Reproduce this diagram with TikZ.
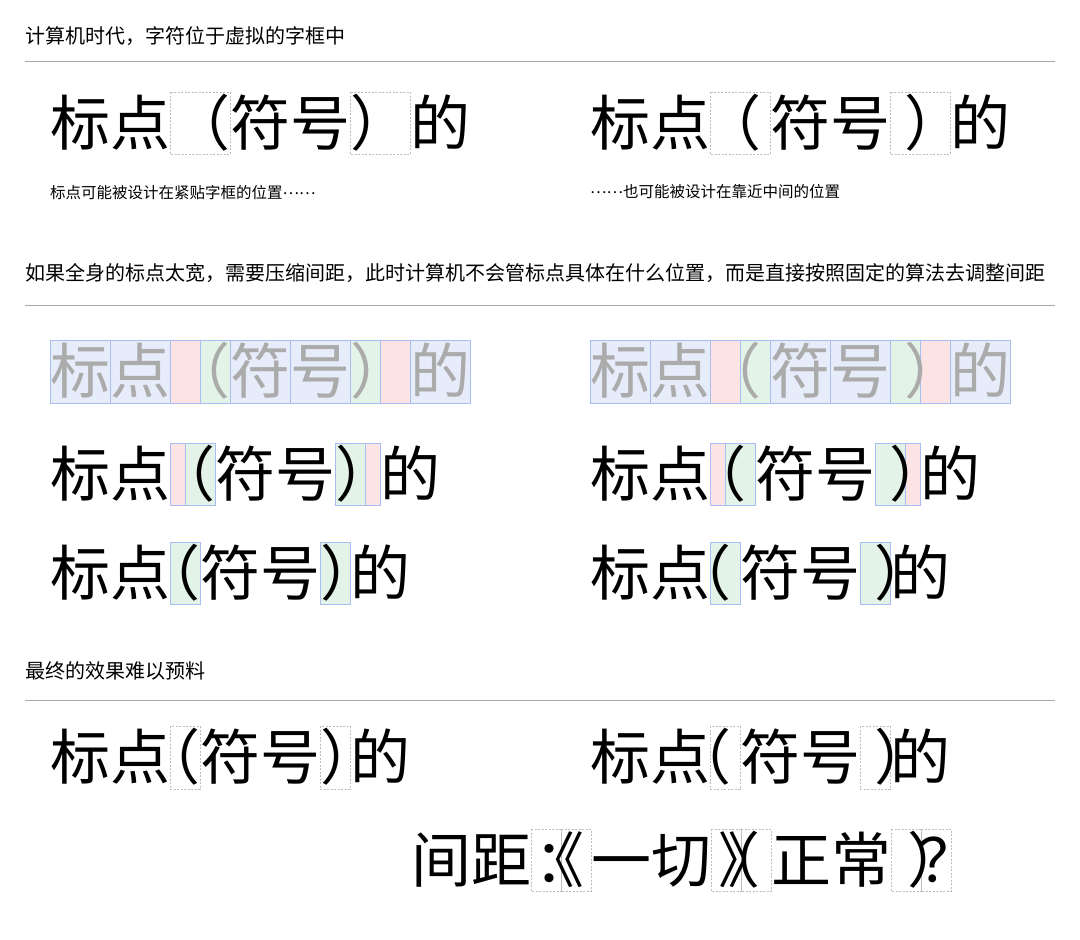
\documentclass[tikz,border=0pt]{standalone}
\usepackage{fontspec}
\setmainfont{Noto Sans CJK SC}

\definecolor{rulegray}{HTML}{A8A8A8}
\definecolor{framegray}{HTML}{BDBDBD}
\definecolor{fadegray}{HTML}{ABABAB}
\definecolor{cellblue}{HTML}{E7ECFB}
\definecolor{lineblue}{HTML}{A9BEF0}
\definecolor{cellred}{HTML}{FDE4E4}
\definecolor{cellgreen}{HTML}{E3F3E8}

\newcommand{\middots}{\raisebox{0.3em}{……}}

\tikzset{
  zi/.style={anchor=base west, inner sep=0pt, font=\fontsize{60}{60}\selectfont},
  openA/.style={zi},
  openB/.style={zi, xshift=-9pt},
  closeA/.style={zi},
  closeB/.style={zi, xshift=14pt},
  heading/.style={anchor=west, inner sep=0pt, font=\fontsize{20}{20}\selectfont},
  note/.style={anchor=west, inner sep=0pt, font=\fontsize{15.5}{15.5}\selectfont},
  frame/.style={draw=framegray, dash pattern=on 2pt off 1.5pt, line width=0.7pt},
  bluecell/.style={fill=cellblue, draw=lineblue, line width=0.7pt},
  redcell/.style={fill=cellred, draw=lineblue, line width=0.7pt},
  greencell/.style={fill=cellgreen, draw=lineblue, line width=0.7pt},
  rule/.style={draw=rulegray, line width=0.8pt}
}

\begin{document}
\begin{tikzpicture}[x=1pt, y=-1pt]
  \useasboundingbox[fill=white] (0,0) rectangle (1080,940);

  % Part 1: virtual boxes
  \node[heading] (h1) at (25,36) {计算机时代，字符位于虚拟的字框中};
  \draw[rule] (25,61) -- (1055,61);

  \draw[frame] (170,92) rectangle (230,154);
  \draw[frame] (350,92) rectangle (410,154);
  \foreach \ch/\x [count=\i] in {标/50,点/110,符/230,号/290,的/410}
    \node[zi] (p\i) at (\x,145.8) {\ch};
  \node[openA] (plp) at (170,145.8) {（};
  \node[closeA] (prp) at (350,145.8) {）};
  \node[note] (pn) at (50,193) {标点可能被设计在紧贴字框的位置\middots};

  \draw[frame] (710,92) rectangle (770,154);
  \draw[frame] (890,92) rectangle (950,154);
  \foreach \ch/\x [count=\i] in {标/590,点/650,符/770,号/830,的/950}
    \node[zi] (q\i) at (\x,145.8) {\ch};
  \node[openB] (qlp) at (710,145.8) {（};
  \node[closeB] (qrp) at (890,145.8) {）};
  \node[note] (qn) at (590,192) {\middots 也可能被设计在靠近中间的位置};

  % Part 2: squeezing
  \node[heading] (h2) at (25,273) {如果全身的标点太宽，需要压缩间距，此时计算机不会管标点具体在什么位置，而是直接按照固定的算法去调整间距};
  \draw[rule] (25,305) -- (1055,305);

  % full width, faded
  \foreach \dx in {0,540} {
    \foreach \a/\b/\c in {50/110/bluecell,110/170/bluecell,170/200/redcell,200/230/greencell,
        230/290/bluecell,290/350/bluecell,350/380/greencell,380/410/redcell,410/470/bluecell}
      \draw[\c] (\a+\dx,340) rectangle (\b+\dx,403);
  }
  \foreach \ch/\x [count=\i] in {标/50,点/110,符/230,号/290,的/410}
    \node[zi, text=fadegray] (f\i) at (\x,393.8) {\ch};
  \node[openA, text=fadegray] (flp) at (170,393.8) {（};
  \node[closeA, text=fadegray] (frp) at (350,393.8) {）};
  \foreach \ch/\x [count=\i] in {标/590,点/650,符/770,号/830,的/950}
    \node[zi, text=fadegray] (g\i) at (\x,393.8) {\ch};
  \node[openB, text=fadegray] (glp) at (710,393.8) {（};
  \node[closeB, text=fadegray] (grp) at (890,393.8) {）};

  % three quarters
  \draw[redcell] (170,443) rectangle (185,505);
  \draw[greencell] (185,443) rectangle (215,505);
  \draw[greencell] (335,443) rectangle (365,505);
  \draw[redcell] (365,443) rectangle (380,505);
  \foreach \ch/\x [count=\i] in {标/50,点/110,符/215,号/275,的/380}
    \node[zi] (m\i) at (\x,496.8) {\ch};
  \node[openA] (mlp) at (155,496.8) {（};
  \node[closeA] (mrp) at (335,496.8) {）};

  \draw[redcell] (710,443) rectangle (725,505);
  \draw[greencell] (725,443) rectangle (755,505);
  \draw[greencell] (875,443) rectangle (905,505);
  \draw[redcell] (905,443) rectangle (920,505);
  \foreach \ch/\x [count=\i] in {标/590,点/650,符/755,号/815,的/920}
    \node[zi] (n\i) at (\x,496.8) {\ch};
  \node[openB] (nlp) at (695,496.8) {（};
  \node[closeB] (nrp) at (875,496.8) {）};

  % half width
  \draw[greencell] (170,542) rectangle (200,604);
  \draw[greencell] (320,542) rectangle (350,604);
  \foreach \ch/\x [count=\i] in {标/50,点/110,符/200,号/260,的/350}
    \node[zi] (s\i) at (\x,595.8) {\ch};
  \node[openA] (slp) at (140,595.8) {（};
  \node[closeA] (srp) at (320,595.8) {）};

  \draw[greencell] (710,542) rectangle (740,604);
  \draw[greencell] (860,542) rectangle (890,604);
  \foreach \ch/\x [count=\i] in {标/590,点/650,符/740,号/800,的/890}
    \node[zi] (t\i) at (\x,595.8) {\ch};
  \node[openB] (tlp) at (680,595.8) {（};
  \node[closeB] (trp) at (860,595.8) {）};

  % Part 3: results
  \node[heading] (h3) at (25,671) {最终的效果难以预料};
  \draw[rule] (25,700) -- (1055,700);

  \draw[frame] (170,726) rectangle (200,789);
  \draw[frame] (320,726) rectangle (350,789);
  \foreach \ch/\x [count=\i] in {标/50,点/110,符/200,号/260,的/350}
    \node[zi] (u\i) at (\x,779.8) {\ch};
  \node[openA] (ulp) at (140,779.8) {（};
  \node[closeA] (urp) at (320,779.8) {）};

  \draw[frame] (710,726) rectangle (740,789);
  \draw[frame] (860,726) rectangle (890,789);
  \foreach \ch/\x [count=\i] in {标/590,点/650,符/740,号/800,的/890}
    \node[zi] (v\i) at (\x,779.8) {\ch};
  \node[openB] (vlp) at (680,779.8) {（};
  \node[closeB] (vrp) at (860,779.8) {）};

  % mixed punctuation
  \foreach \a in {531,561,711,741,891,921}
    \draw[frame] (\a,829) rectangle (\a+30,891);
  \foreach \ch/\x [count=\i] in {间/411,距/471,一/591,切/651,正/771,常/831}
    \node[zi] (w\i) at (\x,882.8) {\ch};
  \node[zi] (wco) at (534,882.8) {：};
  \node[zi] (wlb) at (524,882.8) {《};
  \node[zi] (wrb) at (718,882.8) {》};
  \node[zi] (wlp) at (700,882.8) {（};
  \node[zi] (wrp) at (907,882.8) {）};
  \node[zi] (wqu) at (918,882.8) {？};
\end{tikzpicture}
\end{document}
